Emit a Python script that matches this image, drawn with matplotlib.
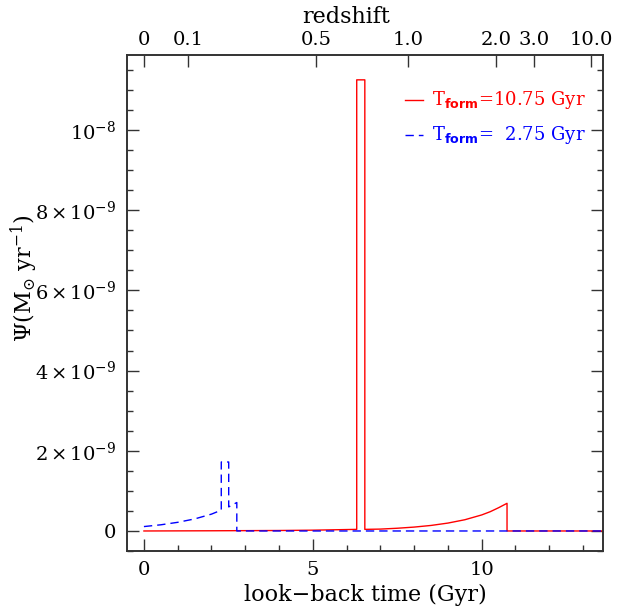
import matplotlib
matplotlib.use("Agg")
import matplotlib.pyplot as plt
from matplotlib.ticker import FixedLocator, MultipleLocator

# star formation histories (look-back time in Gyr, SFR in units of 1e-9 Msun/yr)
red_t = [0.0, 2.0, 4.0, 5.0, 6.30, 6.30, 6.54, 6.54, 7.0, 7.5, 8.0, 8.5,
         9.0, 9.5, 10.0, 10.25, 10.5, 10.75, 10.75, 13.6]
red_sfr = [0.0, 0.005, 0.012, 0.02, 0.04, 11.25, 11.25, 0.04, 0.047, 0.068, 0.097, 0.138,
           0.197, 0.28, 0.40, 0.48, 0.58, 0.69, 0.0, 0.0]

blue_t = [0.0, 0.5, 1.0, 1.5, 2.0, 2.29, 2.29, 2.51, 2.51, 2.75, 2.75, 13.6]
blue_sfr = [0.11, 0.154, 0.216, 0.30, 0.42, 0.52, 1.72, 1.72, 0.60, 0.71, 0.0, 0.0]

# redshift ticks placed at their look-back times
z_pos = [0.0, 1.31, 5.10, 7.81, 10.43, 11.56, 13.25]
z_labels = ["0", "0.1", "0.5", "1.0", "2.0", "3.0", "10.0"]

y_ticks = [0, 2e-9, 4e-9, 6e-9, 8e-9, 1e-8]
y_labels = ["0", r"$2\,{\times}\,10^{-9}$", r"$4\,{\times}\,10^{-9}$", r"$6\,{\times}\,10^{-9}$",
            r"$8\,{\times}\,10^{-9}$", r"$10^{-8}$"]

plt.rcParams["font.family"] = "DejaVu Serif"
plt.rcParams["mathtext.fontset"] = "custom"
plt.rcParams["mathtext.rm"] = "DejaVu Serif"
plt.rcParams["mathtext.it"] = "DejaVu Serif:italic"
plt.rcParams["mathtext.bf"] = "DejaVu Sans:bold"

fs = 14
lab_fs = 16
frame = "#333333"

fig = plt.figure(figsize=(6.27, 6.13), dpi=100)
ax = fig.add_axes([0.2026, 0.1011, 0.7596, 0.8092])

ax.plot(red_t, [v * 1e-9 for v in red_sfr], color="red", lw=1.0)
ax.plot(blue_t, [v * 1e-9 for v in blue_sfr], color="blue", lw=1.0, dashes=(6, 3.6))

ax.set_xlim(-0.5, 13.6)
ax.set_ylim(-0.5e-9, 1.187e-8)

ax.xaxis.set_major_locator(MultipleLocator(5))
ax.xaxis.set_minor_locator(MultipleLocator(1))
ax.yaxis.set_major_locator(FixedLocator(y_ticks))
ax.set_yticklabels(y_labels)
ax.yaxis.set_minor_locator(MultipleLocator(0.5e-9))

ax.tick_params(which="both", direction="in", right=True, top=False,
               color=frame, width=1.0, labelsize=fs)
ax.tick_params(which="major", length=8.6)
ax.tick_params(which="minor", length=4.3)
ax.tick_params(axis="x", pad=7)
ax.tick_params(axis="y", pad=8)
for s in ax.spines.values():
    s.set_color(frame)
    s.set_linewidth(1.2)

ax.set_xlabel("look\u2212back time (Gyr)", fontsize=lab_fs)
ax.xaxis.set_label_coords(0.5, -0.066)
ax.set_ylabel(r"$\Psi(\mathrm{M}_{\odot}\ \mathrm{yr}^{-1})$", fontsize=lab_fs)
ax.yaxis.set_label_coords(-0.183, 0.55)

top = ax.twiny()
top.set_xlim(ax.get_xlim())
top.set_xticks(z_pos)
top.set_xticklabels(z_labels)
top.tick_params(direction="in", length=8.6, width=1.0, color=frame, labelsize=fs, pad=4)
top.set_xlabel("redshift", fontsize=lab_fs)
top.xaxis.set_label_coords(0.46, 1.064)
for s in top.spines.values():
    s.set_color(frame)
    s.set_linewidth(1.2)

# legend drawn by hand in axes coordinates
ax.plot([0.583, 0.622], [0.909, 0.909], transform=ax.transAxes, color="red", lw=1.0)
ax.text(0.64, 0.909, r"$\mathrm{T}_{\mathbf{form}}$=10.75 Gyr", transform=ax.transAxes,
        color="red", fontsize=13, va="center", ha="left")
ax.plot([0.583, 0.622], [0.838, 0.838], transform=ax.transAxes, color="blue", lw=1.0,
        dashes=(6, 3.6))
ax.text(0.64, 0.838, r"$\mathrm{T}_{\mathbf{form}}$=  2.75 Gyr", transform=ax.transAxes,
        color="blue", fontsize=13, va="center", ha="left")

fig.savefig("out.png", dpi=100)
